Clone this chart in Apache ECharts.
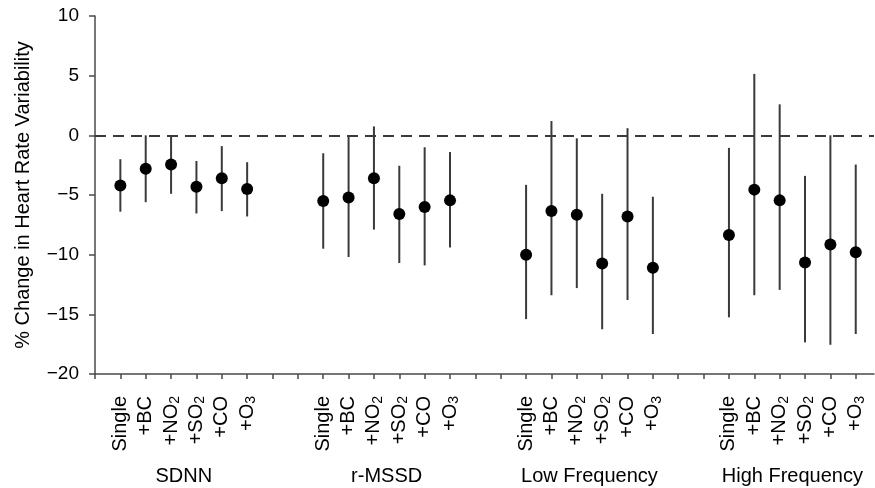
<!DOCTYPE html>
<html>
<head>
<meta charset="utf-8">
<script src="https://cdn.jsdelivr.net/npm/echarts@6/dist/echarts.min.js"></script>
<style>html,body{margin:0;padding:0;background:#fff}#c{width:875px;height:488px}</style>
</head>
<body>
<div id="c"></div>
<script>
// ---- data ----
const pollutants = ['Single', '+BC', '+NO{s|2}', '+SO{s|2}', '+CO', '+O{s|3}'];
const groups = ['SDNN', 'r-MSSD', 'Low Frequency', 'High Frequency'];
const yTicks = [-20, -15, -10, -5, 0, 5, 10];

const sdnnEst  = [-4.2, -2.8, -2.45, -4.3, -3.6, -4.5];
const sdnnLow  = [-6.4, -5.6, -4.9, -6.55, -6.35, -6.8];
const sdnnHigh = [-2.0, 0.0, 0.0, -2.15, -0.9, -2.25];

const rmssdEst  = [-5.5, -5.2, -3.6, -6.6, -6.0, -5.45];
const rmssdLow  = [-9.5, -10.2, -7.9, -10.7, -10.9, -9.4];
const rmssdHigh = [-1.5, 0.0, 0.75, -2.55, -1.0, -1.4];

const lfEst  = [-10.0, -6.35, -6.65, -10.75, -6.8, -11.1];
const lfLow  = [-15.4, -13.4, -12.8, -16.25, -13.8, -16.65];
const lfHigh = [-4.15, 1.2, -0.25, -4.9, 0.6, -5.15];

const hfEst  = [-8.35, -4.55, -5.45, -10.65, -9.15, -9.8];
const hfLow  = [-15.25, -13.4, -12.95, -17.35, -17.55, -16.65];
const hfHigh = [-1.05, 5.15, 2.6, -3.4, 0.0, -2.45];

// ---- build ----
const est = [sdnnEst, rmssdEst, lfEst, hfEst];
const low = [sdnnLow, rmssdLow, lfLow, hfLow];
const high = [sdnnHigh, rmssdHigh, lfHigh, hfHigh];
const gap = 2;
const step = pollutants.length + gap;
const xMax = groups.length * step - 1.28;

const points = [], bars = [], labelPos = [], labelText = {}, groupPos = [], groupText = {};
const tickPos = [];
for (let i = 0; i <= groups.length * step - 2; i++) tickPos.push(i);
groups.forEach((g, gi) => {
  const c = 1 + gi * step + (pollutants.length - 1) / 2;
  groupPos.push(c); groupText[c] = g;
  pollutants.forEach((p, pi) => {
    const x = 1 + gi * step + pi;
    labelPos.push(x); labelText[x] = p;
    points.push([x, est[gi][pi]]);
    bars.push([x, low[gi][pi], high[gi][pi]]);
  });
});

const FONT = '"Liberation Sans", Arial, Helvetica, sans-serif';
const axisCol = '#4a4a4a';
const chart = echarts.init(document.getElementById('c'));
chart.setOption({
  animation: false,
  backgroundColor: '#fff',
  grid: { left: 95, right: 1, top: 16, bottom: 114, containLabel: false },
  xAxis: [{
    type: 'value', min: 0, max: xMax, position: 'bottom',
    splitLine: { show: false },
    axisLine: { show: true, onZero: false, lineStyle: { color: axisCol, width: 1.5 } },
    axisTick: { show: true, length: 5, customValues: tickPos, lineStyle: { color: axisCol, width: 1.5 } },
    axisLabel: {
      customValues: labelPos, rotate: 90, margin: 22,
      fontFamily: FONT, fontSize: 20, color: '#000',
      formatter: v => labelText[v] || '',
      rich: { s: { fontSize: 14, fontFamily: FONT, color: '#000', verticalAlign: 'bottom', lineHeight: 22 } }
    }
  }, {
    type: 'value', min: 0, max: xMax, position: 'bottom', offset: 84,
    splitLine: { show: false }, axisLine: { show: false }, axisTick: { show: false },
    axisLabel: {
      customValues: groupPos, margin: 8,
      fontFamily: FONT, fontSize: 20, color: '#000',
      formatter: v => groupText[v] || ''
    }
  }],
  yAxis: {
    type: 'value', min: yTicks[0], max: yTicks[yTicks.length - 1], interval: 5,
    name: '% Change in Heart Rate Variability', nameLocation: 'middle', nameGap: 62,
    nameTextStyle: { fontFamily: FONT, fontSize: 20, color: '#000' },
    splitLine: { show: false },
    axisLine: { show: true, onZero: false, lineStyle: { color: axisCol, width: 1.5 } },
    axisTick: { show: true, length: 6, lineStyle: { color: axisCol, width: 1.5 } },
    axisLabel: {
      margin: 16, fontFamily: FONT, fontSize: 19, color: '#000',
      formatter: v => String(v).replace('-', '\u2212')
    }
  },
  series: [{
    type: 'custom',
    xAxisIndex: 0,
    data: bars,
    renderItem: (params, api) => {
      const a = api.coord([api.value(0), api.value(1)]);
      const b = api.coord([api.value(0), api.value(2)]);
      return { type: 'line', shape: { x1: a[0], y1: a[1], x2: b[0], y2: b[1] },
               style: { stroke: '#3a3a3a', lineWidth: 2 } };
    },
    z: 2
  }, {
    type: 'scatter',
    xAxisIndex: 0,
    data: points,
    symbol: 'circle', symbolSize: 12,
    itemStyle: { color: '#000', opacity: 1 },
    z: 3,
    markLine: {
      silent: true, symbol: 'none', label: { show: false },
      lineStyle: { color: '#3a3a3a', width: 2, type: [11, 7] },
      data: [{ yAxis: 0 }]
    }
  }]
});
</script>
</body>
</html>
